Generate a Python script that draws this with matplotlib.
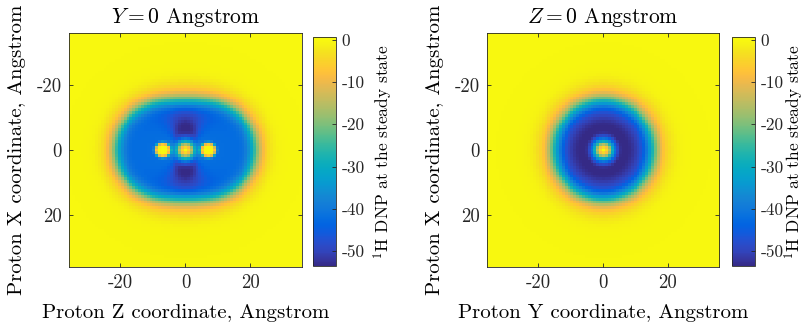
import numpy as np
import matplotlib.pyplot as plt
from matplotlib.colors import LinearSegmentedColormap

plt.rcParams['font.family'] = 'cmr10'
plt.rcParams['mathtext.fontset'] = 'cm'
plt.rcParams['axes.unicode_minus'] = False

# electron positions (Angstrom) and their DNP parameters
elec_x = [0.0, 0.0, 0.0]
elec_y = [0.0, 0.0, 0.0]
elec_z = [-7.0, 0.0, 7.0]
elec_depth = [-42.0, -57.5, -42.0]   # DNP reached next to each electron
elec_reach = [14.7, 14.5, 14.7]      # distance where DNP falls to half
elec_bleach = [2.4, 3.2, 2.4]        # paramagnetic bleaching radius
elec_bleach_pow = [6, 2, 6]

grid = np.linspace(-35.4, 35.4, 81)

ticks = [-20, 0, 20]
cbar_ticks = [0, -10, -20, -30, -40, -50]
clim = (-53.5, 0.6)

titles = [r'$Y = 0$ Angstrom', r'$Z = 0$ Angstrom']
xlabels = ['Proton Z coordinate, Angstrom', 'Proton Y coordinate, Angstrom']
ylabel = 'Proton X coordinate, Angstrom'
cbar_label = r'$^1$H DNP at the steady state'

# parula colour map (MATLAB), sampled
parula = [
    (0.2081, 0.1663, 0.5292), (0.2123, 0.2138, 0.6270), (0.1959, 0.2645, 0.7279),
    (0.1707, 0.2919, 0.7792), (0.1253, 0.3242, 0.8303), (0.0591, 0.3598, 0.8683),
    (0.0117, 0.3875, 0.8820), (0.0165, 0.4266, 0.8786), (0.0498, 0.4586, 0.8641),
    (0.0723, 0.4887, 0.8467), (0.0793, 0.5200, 0.8312), (0.0641, 0.5570, 0.8240),
    (0.0343, 0.5966, 0.8199), (0.0239, 0.6287, 0.8038), (0.0228, 0.6535, 0.7768),
    (0.0384, 0.6743, 0.7436), (0.0843, 0.6928, 0.7062), (0.1453, 0.7098, 0.6646),
    (0.2178, 0.7250, 0.6193), (0.3022, 0.7376, 0.5712), (0.3953, 0.7459, 0.5244),
    (0.4871, 0.7491, 0.4840), (0.5709, 0.7485, 0.4494), (0.6473, 0.7456, 0.4188),
    (0.7184, 0.7411, 0.3905), (0.7858, 0.7356, 0.3633), (0.8507, 0.7299, 0.3360),
    (0.9139, 0.7258, 0.3063), (0.9739, 0.7314, 0.2666), (0.9990, 0.7653, 0.2164),
    (0.9880, 0.8066, 0.1794), (0.9697, 0.8481, 0.1475), (0.9589, 0.8949, 0.1132),
    (0.9661, 0.9514, 0.0755), (0.9763, 0.9831, 0.0538)]
cmap = LinearSegmentedColormap.from_list('parula', parula, N=256)


def dnp_map(px, py, pz):
    K = 0.0
    wsum = 0.0
    psum = 0.0
    bleach = 1.0
    for i in range(len(elec_z)):
        d = np.sqrt((px - elec_x[i])**2 + (py - elec_y[i])**2 + (pz - elec_z[i])**2) + 1e-6
        K = K + (elec_reach[i] / d)**10
        w = (1.0 / d)**6
        wsum = wsum + w
        psum = psum + w * elec_depth[i]
        bleach = bleach * (1 - np.exp(-(d / elec_bleach[i])**elec_bleach_pow[i]))
    return psum / wsum * K / (1 + K) * bleach


H, V = np.meshgrid(grid, grid)  # H horizontal, V = proton X (rows)
maps = [dnp_map(V, 0 * H, H),   # Y = 0 plane: horizontal is Z
        dnp_map(V, H, 0 * H)]   # Z = 0 plane: horizontal is Y

fig = plt.figure(figsize=(8.07, 3.22), dpi=100)
ax_pos = [[0.0855, 0.171, 0.2887, 0.7267], [0.6035, 0.171, 0.2875, 0.7267]]
cb_pos = [[0.3879, 0.174, 0.0285, 0.711], [0.907, 0.174, 0.0285, 0.711]]
cb_label_x = [3.05, 2.7]
half = grid[-1] + (grid[1] - grid[0]) / 2
dark = '#262626'

for k in range(2):
    ax = fig.add_axes(ax_pos[k])
    im = ax.imshow(maps[k], cmap=cmap, vmin=clim[0], vmax=clim[1],
                   extent=[-half, half, half, -half], interpolation='nearest',
                   aspect='auto')
    ax.set_xticks(ticks)
    ax.set_yticks(ticks)
    ax.set_xticklabels([str(t) for t in ticks])
    ax.set_yticklabels([str(t) for t in ticks])
    ax.tick_params(direction='in', top=True, right=True, length=3, width=0.6,
                   labelsize=13.5, colors=dark, pad=5)
    for s in ax.spines.values():
        s.set_linewidth(0.6)
        s.set_color(dark)
    ax.set_title(titles[k], fontsize=15.5, y=1.065, va='center', pad=0)
    ax.set_xlabel(xlabels[k], fontsize=15)
    ax.xaxis.set_label_coords(0.5, -0.197)
    ax.set_ylabel(ylabel, fontsize=15)
    ax.yaxis.set_label_coords(-0.225, 0.5)
    ax.xaxis.label.set_va('center')
    ax.yaxis.label.set_va('center')

    cax = fig.add_axes(cb_pos[k])
    cb = fig.colorbar(im, cax=cax)
    cb.set_ticks(cbar_ticks)
    cb.set_ticklabels([str(t) for t in cbar_ticks])
    cax.tick_params(direction='in', length=3, width=0.6, labelsize=12.5, pad=4,
                    colors=dark)
    cb.outline.set_linewidth(0.6)
    cb.outline.set_edgecolor(dark)
    cb.set_label(cbar_label, fontsize=12.5)
    cax.yaxis.set_label_coords(cb_label_x[k], 0.5)
    cax.yaxis.label.set_va('center')

fig.savefig('out.png', dpi=100)
